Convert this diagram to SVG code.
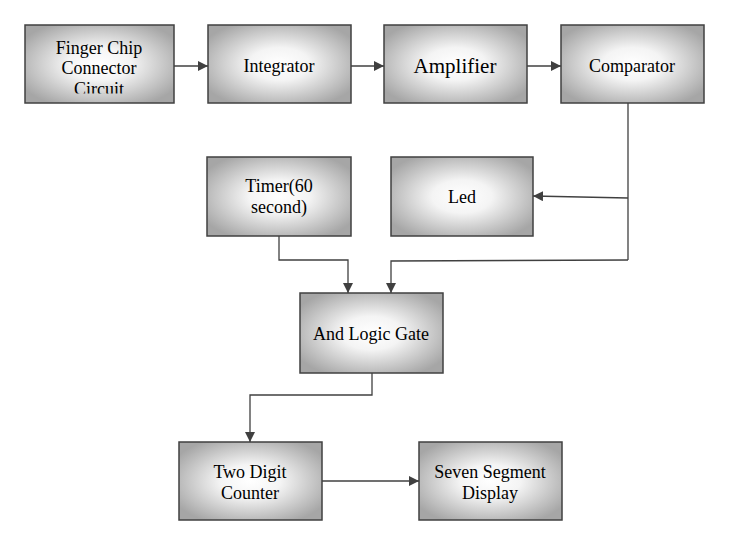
<svg xmlns="http://www.w3.org/2000/svg" width="731" height="552" viewBox="0 0 731 552">
<defs>
<radialGradient id="g" cx="50%" cy="50%" r="60%">
<stop offset="0" stop-color="#ffffff"/>
<stop offset="0.35" stop-color="#f4f4f4"/>
<stop offset="1" stop-color="#a6a6a6"/>
</radialGradient>
<marker id="a" viewBox="0 0 10 10" refX="10" refY="5" markerWidth="10" markerHeight="10" markerUnits="userSpaceOnUse" orient="auto">
<path d="M0,0 L10,5 L0,10 z" fill="#404040"/>
</marker>
<clipPath id="c1"><rect x="25" y="25" width="149" height="68.5"/></clipPath>
</defs>
<style>
.b{fill:url(#g);stroke:#404040;stroke-width:1.5}
.t{font-family:"Liberation Serif","Times New Roman",serif;font-size:18px;fill:#000;text-anchor:middle}
.l{fill:none;stroke:#404040;stroke-width:1.3}
</style>
<rect width="731" height="552" fill="#fff"/>
<g id="finger"><rect class="b" x="25" y="25" width="149" height="78"/><g clip-path="url(#c1)"><text class="t" x="99" y="54">Finger Chip</text><text class="t" x="99" y="74">Connector</text><text class="t" x="99" y="94.5">Circuit</text></g></g>
<g id="integrator"><rect class="b" x="208" y="25" width="143" height="78"/><text class="t" x="279" y="72">Integrator</text></g>
<g id="amplifier"><rect class="b" x="384" y="25" width="143" height="78"/><text class="t" x="455" y="73" style="font-size:21px">Amplifier</text></g>
<g id="comparator"><rect class="b" x="561" y="25" width="143" height="78"/><text class="t" x="632" y="72">Comparator</text></g>
<g id="timer"><rect class="b" x="207" y="157" width="144" height="79"/><text class="t" x="279" y="192">Timer(60</text><text class="t" x="279" y="213">second)</text></g>
<g id="led"><rect class="b" x="391" y="157" width="142" height="79"/><text class="t" x="462" y="203">Led</text></g>
<g id="andgate"><rect class="b" x="300" y="293" width="143" height="80"/><text class="t" x="371" y="340">And Logic Gate</text></g>
<g id="counter"><rect class="b" x="179" y="442" width="143" height="78"/><text class="t" x="250" y="478">Two Digit</text><text class="t" x="250" y="499">Counter</text></g>
<g id="display"><rect class="b" x="419" y="442" width="143" height="78"/><text class="t" x="490" y="478">Seven Segment</text><text class="t" x="490" y="499">Display</text></g>
<g id="connectors">
<path class="l" d="M174,66 H208" marker-end="url(#a)"/>
<path class="l" d="M351,66 H384" marker-end="url(#a)"/>
<path class="l" d="M527,66 H561" marker-end="url(#a)"/>
<path class="l" d="M628,103 V260"/>
<path class="l" d="M628,198 L533,196" marker-end="url(#a)"/>
<path class="l" d="M628,260 L391,261 V293" marker-end="url(#a)"/>
<path class="l" d="M279,236 V260 H348 V293" marker-end="url(#a)"/>
<path class="l" d="M372,373 V395 H250 V442" marker-end="url(#a)"/>
<path class="l" d="M322,481 H419" marker-end="url(#a)"/>
</g>
</svg>
